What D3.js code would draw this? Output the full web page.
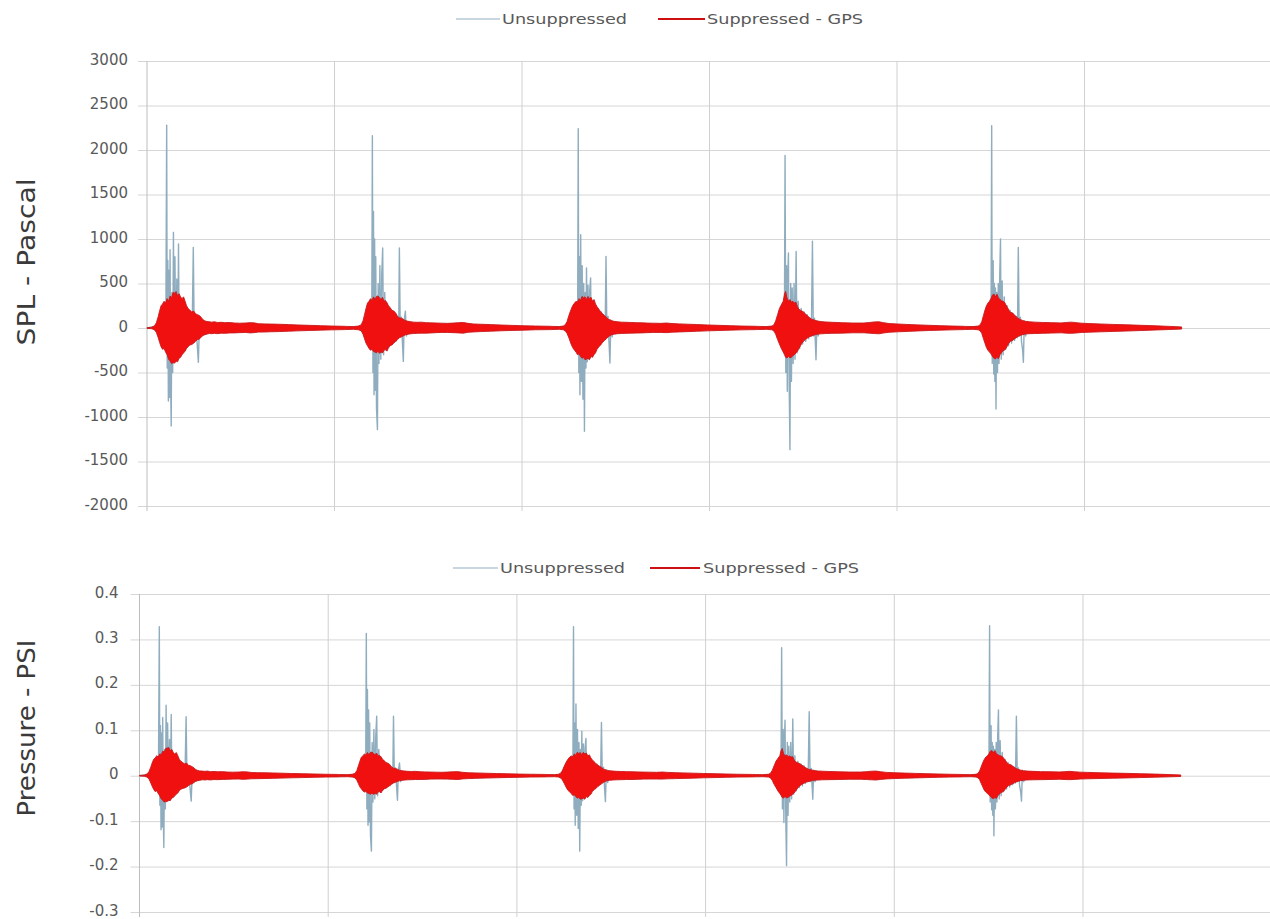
<!DOCTYPE html>
<html><head><meta charset="utf-8">
<script src="https://cdn.jsdelivr.net/npm/d3@7"></script>
<style>body{margin:0;background:#fff;} svg{display:block;}</style>
</head><body>
<svg id="chart" width="1270" height="919"></svg>
<script>
// ---------------- DATA ----------------
const seriesNames = ["Unsuppressed", "Suppressed - GPS"];
const timeTicks = [0, 1000, 2000, 3000, 4000, 5000];
const splTicks = [-2000, -1500, -1000, -500, 0, 500, 1000, 1500, 2000, 2500, 3000];
const psiTicks = [-0.3, -0.2, -0.1, 0, 0.1, 0.2, 0.3, 0.4];
// time of the main spike of each of the five shots
const eventTimes = [105, 1202, 2300, 3403, 4505];

// Unsuppressed waveform around each shot: [dt, Pa]
const splUnsuppressed = [
 [[-105,0],[-70,15],[-60,-30],[-50,60],[-42,-100],[-34,160],[-26,-200],[-18,250],[-10,-230],[-4,300],[0,2280],[3,-450],[6,760],[9,-820],[12,650],[15,-780],[18,880],[21,-600],[24,-1100],[28,400],[32,-500],[36,1075],[40,-350],[44,800],[49,-380],[54,550],[59,-300],[63,944],[67,-250],[72,300],[80,-220],[88,250],[96,-200],[105,200],[115,-160],[125,170],[135,-150],[142,906],[147,-120],[155,140],[162,-160],[169,-386],[175,90],[183,-100],[192,80],[205,-55],[225,45],[260,-30],[950,0]],
 [[-140,0],[-70,15],[-60,-30],[-50,60],[-40,-100],[-30,160],[-22,-180],[-14,240],[-7,-220],[-3,300],[0,2160],[3,-500],[6,1310],[9,-750],[12,1000],[15,-700],[18,800],[22,-900],[27,-1142],[31,500],[35,-400],[40,700],[45,-350],[50,600],[55,900],[60,-300],[66,400],[72,-250],[80,280],[88,-220],[96,220],[106,-180],[116,180],[126,-150],[134,130],[140,-110],[144,900],[149,-90],[155,120],[160,-150],[165,-375],[170,90],[176,190],[182,-90],[190,70],[205,-55],[225,45],[260,-30],[950,0]],
 [[-140,0],[-80,15],[-70,-30],[-60,60],[-50,-100],[-40,160],[-30,-180],[-20,240],[-10,-220],[-3,300],[0,2240],[3,-500],[6,800],[9,-750],[13,1049],[17,-600],[21,700],[25,-800],[29,500],[33,-1161],[37,400],[41,-450],[44,674],[48,-380],[52,480],[56,-350],[61,420],[66,562],[70,-300],[76,300],[84,-260],[92,250],[100,-220],[108,210],[116,-190],[124,180],[132,-150],[139,130],[143,-110],[148,805],[153,-90],[159,130],[164,-160],[169,-393],[174,90],[181,-100],[190,70],[205,-55],[225,45],[260,-30],[950,0]],
 [[-140,0],[-70,15],[-60,-30],[-50,60],[-40,-100],[-30,160],[-20,-180],[-10,240],[-4,-240],[0,1940],[4,-500],[8,700],[12,-712],[15,600],[18,843],[22,-650],[26,-1367],[30,500],[34,-600],[38,450],[43,-400],[48,500],[53,-350],[59,861],[64,-280],[70,300],[78,-230],[86,220],[94,-180],[102,180],[110,-150],[118,150],[126,-120],[134,110],[140,-90],[146,974],[151,-90],[157,110],[161,-140],[165,-356],[170,80],[177,-90],[186,70],[200,-55],[225,45],[260,-30],[950,0]],
 [[-140,0],[-70,15],[-60,-30],[-50,60],[-40,-100],[-30,160],[-20,-180],[-10,240],[-4,-240],[0,2273],[3,-400],[6,600],[8,757],[11,-517],[14,500],[17,-600],[20,450],[23,-910],[27,400],[31,-500],[35,500],[39,-400],[43,600],[47,1000],[51,-350],[56,530],[61,-300],[67,350],[74,-240],[82,250],[90,-200],[98,200],[106,-170],[114,160],[122,-140],[130,130],[137,-110],[142,906],[147,-90],[153,120],[159,-150],[165,-250],[169,-386],[174,80],[181,-90],[190,70],[205,-55],[225,45],[260,-30],[1013,0]]
];

// Suppressed waveform envelope around each shot: [dt, max Pa, min Pa]
const splSuppressed = [
 [[-105,4,-4],[-80,8,-8],[-65,25,-20],[-55,60,-50],[-45,130,-110],[-38,190,-160],[-30,250,-210],[-22,270,-240],[-14,300,-230],[-6,280,-270],[2,330,-300],[10,300,-350],[18,360,-370],[26,340,-400],[34,400,-390],[42,390,-395],[50,410,-370],[58,360,-380],[66,385,-340],[74,350,-330],[82,330,-300],[90,350,-280],[98,300,-260],[106,250,-230],[114,220,-210],[124,200,-190],[134,180,-185],[144,190,-170],[154,160,-150],[164,150,-130],[174,140,-125],[184,120,-100],[194,92,-85],[204,80,-75],[215,72,-68],[228,70,-62],[240,66,-64],[255,70,-60],[270,62,-64],[290,64,-58],[310,60,-60],[335,62,-56],[360,56,-55],[390,54,-52],[420,56,-50],[445,60,-55],[465,58,-52],[490,48,-46],[520,46,-45],[560,44,-42],[600,42,-40],[650,38,-36],[700,34,-32],[760,30,-28],[820,26,-24],[880,22,-21],[950,19,-18]],
 [[-140,18,-17],[-100,16,-15],[-75,22,-20],[-60,35,-30],[-50,80,-70],[-42,150,-120],[-34,220,-170],[-26,280,-200],[-18,300,-230],[-10,330,-250],[-2,310,-240],[6,350,-265],[14,320,-270],[22,355,-280],[30,360,-260],[38,340,-285],[46,320,-270],[54,345,-280],[62,300,-250],[70,310,-240],[78,280,-260],[86,250,-220],[94,230,-200],[104,200,-190],[114,190,-170],[124,170,-150],[134,130,-130],[144,115,-110],[154,110,-100],[164,100,-90],[174,85,-78],[190,75,-70],[205,70,-65],[220,66,-62],[240,64,-60],[260,66,-58],[285,60,-58],[310,58,-56],[340,56,-52],[370,54,-50],[400,52,-50],[430,55,-52],[460,60,-55],[485,62,-58],[510,52,-48],[540,45,-44],[580,42,-40],[630,38,-36],[690,33,-31],[750,29,-27],[810,25,-24],[870,22,-20],[950,19,-18]],
 [[-140,18,-17],[-100,16,-15],[-80,22,-20],[-70,35,-30],[-60,70,-60],[-50,140,-110],[-40,200,-170],[-30,250,-220],[-20,280,-250],[-12,300,-270],[-4,290,-300],[4,330,-290],[12,310,-320],[20,355,-340],[28,340,-330],[36,350,-356],[44,320,-350],[52,355,-340],[60,330,-356],[68,345,-320],[76,300,-330],[84,320,-300],[92,270,-280],[100,240,-240],[110,210,-210],[120,180,-190],[130,160,-160],[140,140,-140],[150,120,-120],[160,100,-100],[175,85,-78],[190,75,-70],[210,70,-64],[230,66,-62],[255,64,-60],[280,62,-58],[310,60,-57],[340,58,-55],[370,55,-52],[400,54,-50],[440,52,-50],[470,56,-52],[500,50,-47],[540,46,-44],[580,43,-41],[630,39,-37],[690,34,-32],[750,30,-28],[810,26,-24],[870,22,-21],[950,19,-18]],
 [[-140,18,-17],[-100,16,-15],[-70,22,-20],[-60,35,-32],[-50,80,-70],[-40,150,-130],[-30,220,-180],[-20,260,-230],[-10,300,-270],[-3,380,-300],[3,412,-330],[10,340,-337],[18,300,-320],[26,320,-335],[34,290,-330],[42,300,-310],[50,280,-300],[58,290,-280],[66,240,-262],[74,210,-230],[82,200,-200],[90,190,-170],[98,180,-150],[108,160,-130],[118,140,-115],[128,120,-100],[140,100,-90],[155,90,-80],[170,80,-70],[190,72,-66],[215,68,-62],[250,64,-60],[300,60,-58],[360,56,-54],[420,56,-54],[450,62,-58],[475,68,-62],[500,70,-65],[525,60,-56],[555,50,-48],[600,45,-43],[650,40,-38],[710,35,-33],[770,30,-28],[830,26,-24],[890,22,-21],[950,19,-18]],
 [[-140,18,-17],[-100,16,-15],[-72,22,-20],[-62,35,-30],[-53,70,-60],[-44,140,-120],[-36,200,-170],[-28,250,-220],[-20,280,-250],[-12,300,-270],[-4,330,-290],[4,370,-320],[12,382,-340],[20,350,-348],[28,380,-330],[36,340,-345],[44,320,-300],[52,307,-280],[60,300,-255],[68,290,-250],[76,260,-230],[84,230,-200],[92,200,-170],[100,176,-150],[110,170,-142],[120,150,-125],[130,130,-110],[140,110,-95],[152,95,-85],[165,85,-75],[180,75,-68],[200,70,-64],[230,66,-62],[270,62,-60],[320,60,-57],[370,57,-54],[400,62,-58],[425,66,-60],[450,60,-56],[480,54,-50],[520,50,-47],[580,45,-43],[650,40,-38],[720,36,-34],[800,30,-28],[880,24,-22],[950,18,-17],[1013,12,-12]]
];

// Unsuppressed waveform around each shot: [dt, psi]
const psiUnsuppressed = [
 [[-105,0],[-70,0.002],[-60,-0.004],[-50,0.009],[-42,-0.015],[-34,0.023],[-26,-0.029],[-18,0.036],[-10,-0.033],[-4,0.044],[0,0.328],[3,-0.065],[6,0.11],[9,-0.119],[12,0.094],[15,-0.113],[18,0.128],[21,-0.087],[24,-0.158],[28,0.058],[32,-0.073],[36,0.155],[40,-0.051],[44,0.116],[49,-0.055],[54,0.08],[59,-0.044],[63,0.135],[67,-0.036],[72,0.044],[80,-0.032],[88,0.036],[96,-0.029],[105,0.029],[115,-0.023],[125,0.025],[135,-0.022],[142,0.13],[147,-0.017],[155,0.02],[162,-0.023],[169,-0.056],[175,0.013],[183,-0.015],[192,0.012],[205,-0.008],[225,0.007],[260,-0.004],[950,0]],
 [[-140,0],[-70,0.002],[-60,-0.004],[-50,0.009],[-40,-0.015],[-30,0.023],[-22,-0.026],[-14,0.035],[-7,-0.032],[-3,0.044],[0,0.313],[3,-0.073],[6,0.19],[9,-0.109],[12,0.145],[15,-0.102],[18,0.116],[22,-0.131],[27,-0.166],[31,0.073],[35,-0.058],[40,0.102],[45,-0.051],[50,0.087],[55,0.131],[60,-0.044],[66,0.058],[72,-0.036],[80,0.041],[88,-0.032],[96,0.032],[106,-0.026],[116,0.026],[126,-0.022],[134,0.019],[140,-0.016],[144,0.131],[149,-0.013],[155,0.017],[160,-0.022],[165,-0.054],[170,0.013],[176,0.028],[182,-0.013],[190,0.01],[205,-0.008],[225,0.007],[260,-0.004],[950,0]],
 [[-140,0],[-80,0.002],[-70,-0.004],[-60,0.009],[-50,-0.015],[-40,0.023],[-30,-0.026],[-20,0.035],[-10,-0.032],[-3,0.044],[0,0.328],[3,-0.073],[6,0.116],[9,-0.109],[13,0.158],[17,-0.087],[21,0.102],[25,-0.116],[29,0.073],[33,-0.166],[37,0.058],[41,-0.065],[44,0.098],[48,-0.055],[52,0.07],[56,-0.051],[61,0.061],[66,0.082],[70,-0.044],[76,0.044],[84,-0.038],[92,0.036],[100,-0.032],[108,0.03],[116,-0.028],[124,0.026],[132,-0.022],[139,0.019],[143,-0.016],[148,0.117],[153,-0.013],[159,0.019],[164,-0.023],[169,-0.057],[174,0.013],[181,-0.015],[190,0.01],[205,-0.008],[225,0.007],[260,-0.004],[950,0]],
 [[-140,0],[-70,0.002],[-60,-0.004],[-50,0.009],[-40,-0.015],[-30,0.023],[-20,-0.026],[-10,0.035],[-4,-0.035],[0,0.282],[4,-0.073],[8,0.102],[12,-0.103],[15,0.087],[18,0.122],[22,-0.094],[26,-0.198],[30,0.073],[34,-0.087],[38,0.065],[43,-0.058],[48,0.073],[53,-0.051],[59,0.125],[64,-0.041],[70,0.044],[78,-0.033],[86,0.032],[94,-0.026],[102,0.026],[110,-0.022],[118,0.022],[126,-0.017],[134,0.016],[140,-0.013],[146,0.141],[151,-0.013],[157,0.016],[161,-0.02],[165,-0.052],[170,0.012],[177,-0.013],[186,0.01],[200,-0.008],[225,0.007],[260,-0.004],[950,0]],
 [[-140,0],[-70,0.002],[-60,-0.004],[-50,0.009],[-40,-0.015],[-30,0.023],[-20,-0.026],[-10,0.035],[-4,-0.035],[0,0.33],[3,-0.058],[6,0.087],[8,0.11],[11,-0.075],[14,0.073],[17,-0.087],[20,0.065],[23,-0.132],[27,0.058],[31,-0.073],[35,0.073],[39,-0.058],[43,0.087],[47,0.145],[51,-0.051],[56,0.077],[61,-0.044],[67,0.051],[74,-0.035],[82,0.036],[90,-0.029],[98,0.029],[106,-0.025],[114,0.023],[122,-0.02],[130,0.019],[137,-0.016],[142,0.131],[147,-0.013],[153,0.017],[159,-0.022],[165,-0.036],[169,-0.056],[174,0.012],[181,-0.013],[190,0.01],[205,-0.008],[225,0.007],[260,-0.004],[1013,0]]
];

// Suppressed waveform envelope around each shot: [dt, max psi, min psi]
const psiSuppressed = [
 [[-105,0.0006,-0.0006],[-80,0.0012,-0.0012],[-65,0.004,-0.003],[-55,0.009,-0.007],[-45,0.019,-0.016],[-38,0.028,-0.023],[-30,0.036,-0.03],[-22,0.039,-0.035],[-14,0.044,-0.033],[-6,0.041,-0.039],[2,0.048,-0.044],[10,0.046,-0.051],[18,0.054,-0.054],[26,0.052,-0.058],[34,0.06,-0.057],[42,0.061,-0.057],[50,0.062,-0.054],[58,0.055,-0.055],[66,0.058,-0.049],[74,0.051,-0.048],[82,0.048,-0.044],[90,0.051,-0.041],[98,0.044,-0.038],[106,0.036,-0.033],[114,0.032,-0.03],[124,0.029,-0.028],[134,0.026,-0.027],[144,0.028,-0.025],[154,0.023,-0.022],[164,0.022,-0.019],[174,0.02,-0.018],[184,0.017,-0.0145],[194,0.0133,-0.0123],[204,0.0116,-0.0109],[215,0.0104,-0.0099],[228,0.0102,-0.009],[240,0.0096,-0.0093],[255,0.0102,-0.0087],[270,0.009,-0.0093],[290,0.0093,-0.0084],[310,0.0087,-0.0087],[335,0.009,-0.0081],[360,0.0081,-0.008],[390,0.0078,-0.0075],[420,0.0081,-0.0073],[445,0.0087,-0.008],[465,0.0084,-0.0075],[490,0.007,-0.0067],[520,0.0067,-0.0065],[560,0.0064,-0.0061],[600,0.0061,-0.0058],[650,0.0055,-0.0052],[700,0.0049,-0.0046],[760,0.0044,-0.0041],[820,0.0038,-0.0035],[880,0.0032,-0.003],[950,0.0028,-0.0026]],
 [[-140,0.0026,-0.0025],[-100,0.0023,-0.0022],[-75,0.0032,-0.0029],[-60,0.0051,-0.0044],[-50,0.0116,-0.0102],[-42,0.0218,-0.0174],[-34,0.032,-0.0247],[-26,0.041,-0.029],[-18,0.0435,-0.0334],[-10,0.048,-0.036],[-2,0.045,-0.0348],[6,0.051,-0.038],[14,0.046,-0.039],[22,0.0515,-0.041],[30,0.052,-0.038],[38,0.049,-0.041],[46,0.046,-0.039],[54,0.05,-0.041],[62,0.0435,-0.036],[70,0.045,-0.0348],[78,0.041,-0.038],[86,0.036,-0.032],[94,0.0334,-0.029],[104,0.029,-0.0276],[114,0.0276,-0.0247],[124,0.0247,-0.0218],[134,0.0189,-0.0189],[144,0.0167,-0.016],[154,0.016,-0.0145],[164,0.0145,-0.013],[174,0.0123,-0.0113],[190,0.0109,-0.0102],[205,0.0102,-0.0094],[220,0.0096,-0.009],[240,0.0093,-0.0087],[260,0.0096,-0.0084],[285,0.0087,-0.0084],[310,0.0084,-0.0081],[340,0.0081,-0.0075],[370,0.0078,-0.0073],[400,0.0075,-0.0073],[430,0.008,-0.0075],[460,0.0087,-0.008],[485,0.009,-0.0084],[510,0.0075,-0.007],[540,0.0065,-0.0064],[580,0.0061,-0.0058],[630,0.0055,-0.0052],[690,0.0048,-0.0045],[750,0.0042,-0.0039],[810,0.0036,-0.0035],[870,0.0032,-0.0029],[950,0.0028,-0.0026]],
 [[-140,0.0026,-0.0025],[-100,0.0023,-0.0022],[-80,0.0032,-0.0029],[-70,0.0051,-0.0044],[-60,0.0102,-0.0087],[-50,0.0203,-0.016],[-40,0.029,-0.0247],[-30,0.036,-0.032],[-20,0.041,-0.036],[-12,0.0435,-0.039],[-4,0.042,-0.0435],[4,0.048,-0.042],[12,0.045,-0.046],[20,0.0515,-0.049],[28,0.049,-0.048],[36,0.051,-0.0516],[44,0.046,-0.051],[52,0.0515,-0.049],[60,0.048,-0.0516],[68,0.05,-0.046],[76,0.0435,-0.048],[84,0.046,-0.0435],[92,0.039,-0.041],[100,0.0348,-0.0348],[110,0.0305,-0.0305],[120,0.026,-0.0276],[130,0.0232,-0.0232],[140,0.0203,-0.0203],[150,0.0174,-0.0174],[160,0.0145,-0.0145],[175,0.0123,-0.0113],[190,0.0109,-0.0102],[210,0.0102,-0.0093],[230,0.0096,-0.009],[255,0.0093,-0.0087],[280,0.009,-0.0084],[310,0.0087,-0.0083],[340,0.0084,-0.008],[370,0.008,-0.0075],[400,0.0078,-0.0073],[440,0.0075,-0.0073],[470,0.0081,-0.0075],[500,0.0073,-0.0068],[540,0.0067,-0.0064],[580,0.0062,-0.0059],[630,0.0057,-0.0054],[690,0.0049,-0.0046],[750,0.0044,-0.0041],[810,0.0038,-0.0035],[870,0.0032,-0.003],[950,0.0028,-0.0026]],
 [[-140,0.0026,-0.0025],[-100,0.0023,-0.0022],[-70,0.0032,-0.0029],[-60,0.0051,-0.0046],[-50,0.0116,-0.0102],[-40,0.0218,-0.0189],[-30,0.032,-0.026],[-20,0.038,-0.0334],[-10,0.0435,-0.039],[-3,0.055,-0.0435],[3,0.06,-0.048],[10,0.049,-0.049],[18,0.0435,-0.046],[26,0.046,-0.0486],[34,0.042,-0.048],[42,0.0435,-0.045],[50,0.041,-0.0435],[58,0.042,-0.041],[66,0.0348,-0.038],[74,0.0305,-0.0334],[82,0.029,-0.029],[90,0.0276,-0.0247],[98,0.026,-0.0218],[108,0.0232,-0.0189],[118,0.0203,-0.0167],[128,0.0174,-0.0145],[140,0.0145,-0.013],[155,0.013,-0.0116],[170,0.0116,-0.0102],[190,0.0104,-0.0096],[215,0.0099,-0.009],[250,0.0093,-0.0087],[300,0.0087,-0.0084],[360,0.0081,-0.0078],[420,0.0081,-0.0078],[450,0.009,-0.0084],[475,0.0099,-0.009],[500,0.0102,-0.0094],[525,0.0087,-0.0081],[555,0.0073,-0.007],[600,0.0065,-0.0062],[650,0.0058,-0.0055],[710,0.0051,-0.0048],[770,0.0044,-0.0041],[830,0.0038,-0.0035],[890,0.0032,-0.003],[950,0.0028,-0.0026]],
 [[-140,0.0026,-0.0025],[-100,0.0023,-0.0022],[-72,0.0032,-0.0029],[-62,0.0051,-0.0044],[-53,0.0102,-0.0087],[-44,0.0203,-0.0174],[-36,0.029,-0.0247],[-28,0.036,-0.032],[-20,0.041,-0.036],[-12,0.0435,-0.039],[-4,0.048,-0.042],[4,0.054,-0.046],[12,0.0554,-0.049],[20,0.051,-0.0505],[28,0.055,-0.048],[36,0.049,-0.05],[44,0.046,-0.0435],[52,0.0445,-0.041],[60,0.0435,-0.037],[68,0.042,-0.036],[76,0.038,-0.0334],[84,0.0334,-0.029],[92,0.029,-0.0247],[100,0.0255,-0.0218],[110,0.0247,-0.0206],[120,0.0218,-0.0181],[130,0.0189,-0.016],[140,0.016,-0.0138],[152,0.0138,-0.0123],[165,0.0123,-0.0109],[180,0.0109,-0.0099],[200,0.0102,-0.0093],[230,0.0096,-0.009],[270,0.009,-0.0087],[320,0.0087,-0.0083],[370,0.0083,-0.0078],[400,0.009,-0.0084],[425,0.0096,-0.0087],[450,0.0087,-0.0081],[480,0.0078,-0.0073],[520,0.0073,-0.0068],[580,0.0065,-0.0062],[650,0.0058,-0.0055],[720,0.0052,-0.0049],[800,0.0044,-0.0041],[880,0.0035,-0.0032],[950,0.0026,-0.0025],[1013,0.0017,-0.0017]]
];

// ---------------- DRAWING ----------------
const W = 1270;
const FONT = "'DejaVu Sans', Verdana, sans-serif";
const GREY = "#8fadbf";
const RED = "#f01010";
const RED_EDGE = "#c8181a";
const svg = d3.select("#chart");

function place(bursts) {
  return bursts.flatMap((b, i) => b.map(p => [eventTimes[i] + p[0], ...p.slice(1)]));
}

function drawPanel(cfg) {
  const x = d3.scaleLinear().domain([0, 6000]).range([cfg.left, cfg.right]);
  const y = d3.scaleLinear().domain([cfg.ticks[0], cfg.ticks[cfg.ticks.length - 1]])
    .range([cfg.bottom, cfg.top]);
  const g = svg.append("g");

  // horizontal gridlines + tick labels
  const ax = g.append("g")
    .attr("transform", `translate(${cfg.left - 9},0)`)
    .call(d3.axisLeft(y).tickValues(cfg.ticks)
      .tickSize(-(W - cfg.left + 9)).tickPadding(cfg.pad)
      .tickFormat(d => String(d)));
  ax.select(".domain").remove();
  ax.selectAll(".tick line").attr("stroke", "#d6d6d6").attr("stroke-width", 1);
  ax.selectAll(".tick text").attr("fill", "#595959").attr("dy", "0.2em")
    .style("font-family", FONT).style("font-size", "15px");

  // vertical gridlines
  g.append("g").selectAll("line").data(timeTicks).join("line")
    .attr("x1", d => x(d)).attr("x2", d => x(d))
    .attr("y1", cfg.top).attr("y2", cfg.bottom + 5)
    .attr("stroke", d => d === 0 ? "#bdbdbd" : "#d0d0d0").attr("stroke-width", 1);

  // unsuppressed
  const un = place(cfg.unsup);
  g.append("path").datum(un)
    .attr("d", d3.line().x(d => x(d[0])).y(d => y(d[1])))
    .attr("fill", "none").attr("stroke", GREY).attr("stroke-width", 1.4)
    .attr("stroke-linejoin", "round");

  // suppressed (dense waveform drawn as its max/min envelope)
  const su = place(cfg.sup);
  g.append("path").datum(su)
    .attr("d", d3.area().x(d => x(d[0])).y0(d => y(d[2])).y1(d => y(d[1])))
    .attr("fill", RED).attr("stroke", RED_EDGE).attr("stroke-width", 0.9)
    .attr("stroke-linejoin", "round");

  // y title
  g.append("text")
    .attr("transform", `translate(35,${cfg.titleY}) rotate(-90)`)
    .attr("text-anchor", "middle")
    .attr("textLength", cfg.titleLen).attr("lengthAdjust", "spacingAndGlyphs")
    .attr("fill", "#3a3a3a").style("font-family", FONT).style("font-size", "24px")
    .text(cfg.title);

  // legend
  const L = cfg.legend;
  const lg = g.append("g");
  lg.append("line").attr("x1", L.g1).attr("x2", L.g2).attr("y1", L.y).attr("y2", L.y)
    .attr("stroke", GREY).attr("stroke-width", 1.2);
  lg.append("text").attr("x", L.gt).attr("y", L.y + 5)
    .attr("textLength", 125).attr("lengthAdjust", "spacingAndGlyphs")
    .attr("fill", "#595959").style("font-family", FONT).style("font-size", "14px")
    .text(seriesNames[0]);
  lg.append("line").attr("x1", L.r1).attr("x2", L.r2).attr("y1", L.y).attr("y2", L.y)
    .attr("stroke", "#d01010").attr("stroke-width", 2);
  lg.append("text").attr("x", L.rt).attr("y", L.y + 5)
    .attr("textLength", 156).attr("lengthAdjust", "spacingAndGlyphs")
    .attr("fill", "#595959").style("font-family", FONT).style("font-size", "14px")
    .text(seriesNames[1]);
}

drawPanel({
  left: 147, right: 1272, top: 61, bottom: 506, pad: 10,
  ticks: splTicks, unsup: splUnsuppressed, sup: splSuppressed,
  title: "SPL - Pascal", titleY: 262, titleLen: 167,
  legend: {y: 19, g1: 456, g2: 500, gt: 502, r1: 658, r2: 705, rt: 707}
});
drawPanel({
  left: 139.5, right: 1271.7, top: 594, bottom: 912, pad: 12,
  ticks: psiTicks, unsup: psiUnsuppressed, sup: psiSuppressed,
  title: "Pressure - PSI", titleY: 728, titleLen: 177,
  legend: {y: 568, g1: 453, g2: 498, gt: 500, r1: 650, r2: 700, rt: 703}
});
</script>
</body></html>
